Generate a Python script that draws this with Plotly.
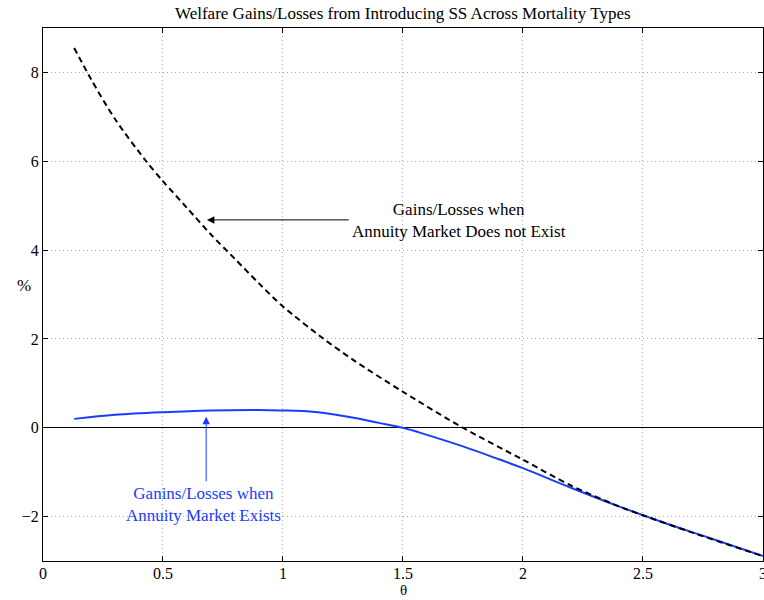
import plotly.graph_objects as go

# Data
theta_none = [0.13, 0.2, 0.3, 0.43, 0.5, 0.6, 0.7, 0.8, 0.9, 1.0, 1.17, 1.3, 1.5,
              1.75, 2.0, 2.2, 2.4, 2.5, 2.7, 3.0]
gain_none = [8.55, 7.85, 6.95, 6.0, 5.55, 4.95, 4.35, 3.8, 3.25, 2.73, 2.0, 1.5, 0.81,
             0.0, -0.72, -1.3, -1.77, -1.97, -2.35, -2.89]

theta_exist = [0.13, 0.3, 0.5, 0.7, 0.9, 1.0, 1.1, 1.2, 1.3, 1.4, 1.5, 1.6, 1.75,
               1.9, 2.0, 2.2, 2.4, 2.6, 2.8, 3.0]
gain_exist = [0.2, 0.29, 0.35, 0.39, 0.40, 0.39, 0.37, 0.31, 0.22, 0.11, 0.0, -0.16,
              -0.42, -0.71, -0.91, -1.35, -1.77, -2.16, -2.52, -2.89]

x_ticks = [0, 0.5, 1, 1.5, 2, 2.5, 3]
x_tick_text = ["0", "0.5", "1", "1.5", "2", "2.5", "3"]
y_ticks = [-2, 0, 2, 4, 6, 8]

title_text = "Welfare Gains/Losses from Introducing SS Across Mortality Types"
label_none = "Gains/Losses when<br>Annuity Market Does not Exist"
label_exist = "Ganins/Losses when<br>Annuity Market Exists"

BLUE = "#1a3cff"
FONT = "Liberation Serif"
FS = 17
TFS = 16

fig = go.Figure()
fig.add_trace(go.Scatter(x=theta_exist, y=gain_exist, mode="lines",
                         line=dict(color=BLUE, width=2, shape="spline", smoothing=1.0),
                         showlegend=False))
fig.add_trace(go.Scatter(x=theta_none, y=gain_none, mode="lines",
                         line=dict(color="black", width=2, dash="6px,4px",
                                   shape="spline", smoothing=0.8),
                         showlegend=False))

axis_common = dict(showline=True, linecolor="black", linewidth=1, mirror="ticks",
                   ticks="inside", ticklen=5, tickcolor="black",
                   showgrid=True, gridcolor="#a8a8a8", griddash="1px,3px", gridwidth=1,
                   ticklabeloverflow="allow", automargin=False,
                   tickfont=dict(family=FONT, size=TFS, color="black"))

fig.update_xaxes(range=[0, 3.0005], tickvals=x_ticks, ticktext=x_tick_text,
                 zeroline=False, ticklabelstandoff=-2, **axis_common)
fig.update_yaxes(range=[-3, 9], tickvals=y_ticks, zeroline=True,
                 zerolinecolor="black", zerolinewidth=1, **axis_common)

annotations = [
    dict(x=0.683, y=4.68, ax=1.28, ay=4.68, xref="x", yref="y", axref="x", ayref="y",
         text="", showarrow=True, arrowhead=2, arrowsize=1.5, arrowwidth=1,
         arrowcolor="black"),
    dict(x=1.733, y=4.66, xref="x", yref="y", text=label_none, showarrow=False,
         font=dict(family=FONT, size=FS, color="black"), align="center"),
    dict(x=0.68, y=0.25, ax=0.68, ay=-1.24, xref="x", yref="y", axref="x", ayref="y",
         text="", showarrow=True, arrowhead=2, arrowsize=1.5, arrowwidth=1,
         arrowcolor=BLUE),
    dict(x=0.668, y=-1.72, xref="x", yref="y", text=label_exist, showarrow=False,
         font=dict(family=FONT, size=FS, color=BLUE), align="center"),
    dict(x=(15 - 43) / 720, y=3.2, xref="paper", yref="y", text="%", showarrow=False,
         font=dict(family=FONT, size=FS, color="black")),
    dict(x=0.5, y=(561 - 590) / 533, xref="paper", yref="paper", text="θ",
         showarrow=False, font=dict(family=FONT, size=15, color="black"),
         yanchor="middle"),
    dict(x=0.5, y=(561 - 13) / 533, xref="paper", yref="paper", text=title_text,
         showarrow=False, yanchor="middle",
         font=dict(family=FONT, size=FS, color="black")),
]

fig.update_layout(width=764, height=600,
                  margin=dict(l=43, r=1, t=28, b=39, autoexpand=False),
                  plot_bgcolor="white", paper_bgcolor="white",
                  annotations=annotations,
                  font=dict(family=FONT, size=FS, color="black"))

fig.write_html("out.html")
